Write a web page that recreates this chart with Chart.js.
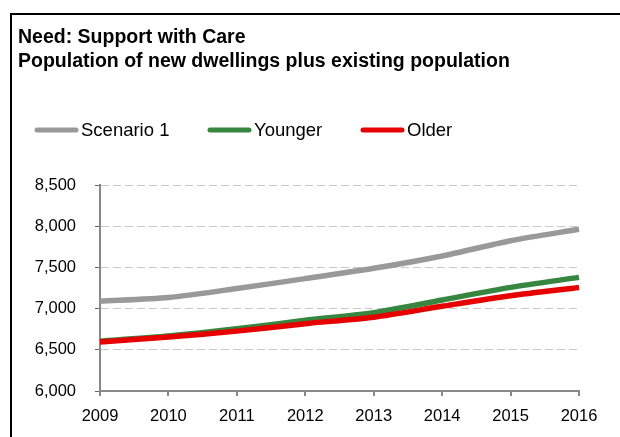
<!DOCTYPE html>
<html>
<head>
<meta charset="utf-8">
<script src="https://cdn.jsdelivr.net/npm/chart.js@4/dist/chart.umd.min.js"></script>
<style>
  body { margin: 0; background: #fff; }
  #frame { position: absolute; left: 10px; top: 13px; width: 700px; height: 500px; border: 2px solid #000; }
  #wrap { position: absolute; left: 0; top: 0; width: 620px; height: 437px; }
</style>
</head>
<body>
<div id="frame"></div>
<div id="wrap"><canvas id="needChart" width="620" height="437"></canvas></div>
<script>
const years = ['2009', '2010', '2011', '2012', '2013', '2014', '2015', '2016']
const scenario1 = [7090, 7135, 7245, 7365, 7490, 7640, 7825, 7965]
const younger = [6605, 6668, 6755, 6858, 6952, 7105, 7258, 7380]
const older = [6595, 6655, 6727, 6818, 6896, 7029, 7157, 7257]

const FONT = 'Arial, "Liberation Sans", sans-serif'

// legend drawn as short thick lines next to the series names
const lineLegend = {
  id: 'lineLegend',
  afterDraw(chart) {
    const ctx = chart.ctx
    const slots = [35, 208, 361]
    ctx.save()
    ctx.font = '18.5px ' + FONT
    ctx.textBaseline = 'middle'
    chart.data.datasets.forEach((ds, i) => {
      const x = slots[i]
      ctx.strokeStyle = ds.borderColor
      ctx.lineWidth = 5
      ctx.lineCap = 'round'
      ctx.beginPath()
      ctx.moveTo(x + 2, 130)
      ctx.lineTo(x + 41, 130)
      ctx.stroke()
      ctx.fillStyle = '#000'
      ctx.fillText(ds.label, x + 46, 131)
    })
    ctx.restore()
  }
}

new Chart(document.getElementById('needChart'), {
  type: 'line',
  data: {
    labels: years,
    datasets: [
      { label: 'Scenario 1', data: scenario1, borderColor: '#999999', order: 3 },
      { label: 'Younger', data: younger, borderColor: '#37863f', order: 2 },
      { label: 'Older', data: older, borderColor: '#e60000', order: 1 }
    ]
  },
  options: {
    responsive: false,
    animation: false,
    layout: { padding: { left: 18, right: 41, top: 0, bottom: 0 } },
    elements: {
      line: { borderWidth: 5.5, tension: 0.25, fill: false },
      point: { radius: 0 }
    },
    plugins: {
      legend: { display: false },
      tooltip: { enabled: false },
      title: {
        display: true,
        align: 'start',
        text: ['Need: Support with Care', 'Population of new dwellings plus existing population'],
        color: '#000',
        font: { family: FONT, size: 19.5, weight: 'bold', lineHeight: 1.26 },
        padding: { top: 25, bottom: 111 }
      }
    },
    scales: {
      x: {
        offset: false,
        afterFit: (scale) => { scale.height = 46 },
        border: { color: '#888', width: 2 },
        grid: { drawOnChartArea: false, tickLength: 5, color: '#888', lineWidth: 2 },
        ticks: { color: '#000', padding: 11, maxRotation: 0, font: { family: FONT, size: 16.5 } }
      },
      y: {
        min: 6000,
        max: 8500,
        afterFit: (scale) => { scale.width = 82 },
        border: { color: '#888', width: 2, dash: [8, 4] },
        grid: {
          color: '#c8c8c8',
          lineWidth: 1,
          tickLength: 5,
          tickColor: '#666',
          tickBorderDash: []
        },
        ticks: {
          stepSize: 500,
          color: '#000',
          padding: 19,
          font: { family: FONT, size: 16.5 },
          callback: (v) => v.toLocaleString('en-US')
        }
      }
    }
  },
  plugins: [lineLegend]
})
</script>
</body>
</html>
